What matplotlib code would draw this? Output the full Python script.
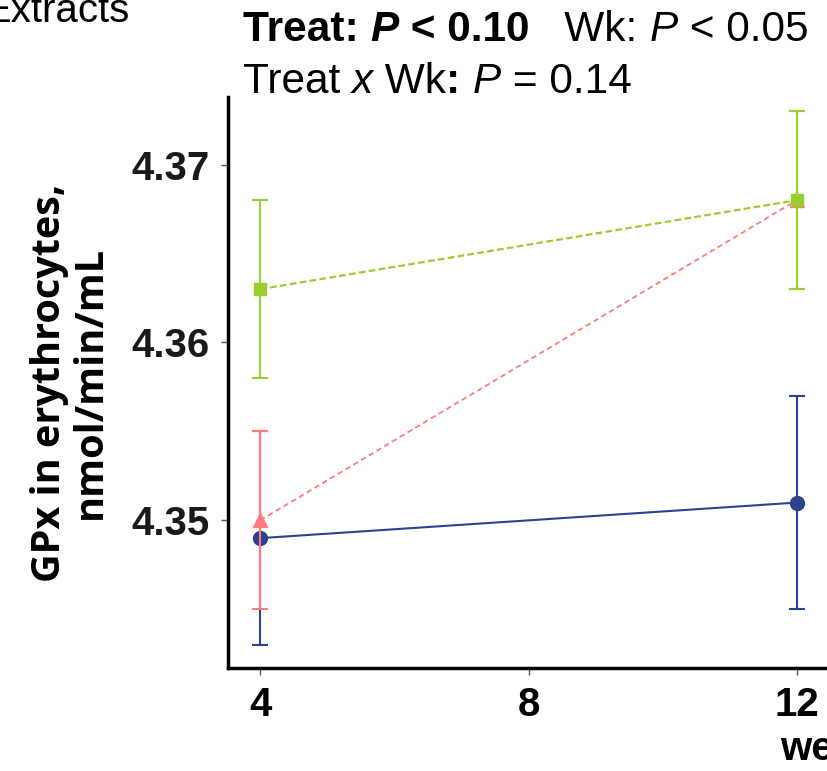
import matplotlib
matplotlib.use("Agg")
import matplotlib.pyplot as plt

plt.rcParams['font.family'] = ['Liberation Sans', 'DejaVu Sans']

# data
weeks = [4, 12]
ctrl_mean = [4.349, 4.351]
ctrl_err = [0.006, 0.006]
low_mean = [4.350, 4.368]
low_err = [0.005, 0.005]
high_mean = [4.363, 4.368]
high_err = [0.005, 0.005]

x_ticks = [4, 8, 12]
y_ticks = [4.35, 4.36, 4.37]
y_labels = ["4.35", "4.36", "4.37"]

fig = plt.figure(figsize=(8.28, 7.71), dpi=100)
ax = fig.add_axes([0.2754, 0.1336, 0.7357, 0.7406])

# blue (solid) first, red over it, then green
ax.errorbar(weeks, ctrl_mean, yerr=ctrl_err, color='#2e4190', marker='o', ms=10,
            lw=1.5, elinewidth=1.5, capsize=6, capthick=1.5, ls='-', zorder=2)
ax.errorbar(weeks, low_mean, yerr=low_err, color='#ff7b7b', marker='^', ms=10,
            lw=1.3, elinewidth=1.5, capsize=6, capthick=1.5, ls=(0, (3, 2)), zorder=3)
ax.errorbar(weeks, high_mean, yerr=high_err, color='#9acd32', marker='s', ms=9,
            lw=1.6, elinewidth=1.5, capsize=6, capthick=1.5, ls=(0, (3, 1.5)), zorder=4)

ax.set_xlim(3.52, 12.6)
ax.set_ylim(4.3417, 4.3738)
ax.set_xticks(x_ticks)
ax.set_xticklabels([str(t) for t in x_ticks], fontsize=29, fontweight='bold')
ax.set_yticks(y_ticks)
ax.set_yticklabels(y_labels, fontsize=29, fontweight='bold', color='#1a1a1a')
ax.tick_params(length=5, width=1, color='#555555', pad=8)

for s in ['top', 'right']:
    ax.spines[s].set_visible(False)
for s in ['left', 'bottom']:
    ax.spines[s].set_linewidth(2.5)
    ax.spines[s].set_color('black')

ax.set_ylabel("GPx in erythrocytes,\nnmol/min/mL", fontsize=28.5, fontweight='bold',
              family='Open Sans', linespacing=1.05, labelpad=16)

# header text: pieces placed one after another so bold/italic can mix
fig.canvas.draw()
renderer = fig.canvas.get_renderer()


def put_line(x0, y0, pieces, size=30.5):
    x = x0
    for txt, weight, style in pieces:
        t = fig.text(x, y0, txt, fontsize=size, fontweight=weight, fontstyle=style,
                     ha='left', va='baseline')
        bb = t.get_window_extent(renderer=renderer)
        x += bb.width / fig.bbox.width


line1 = [("Treat: ", 'bold', 'normal'), ("P", 'bold', 'italic'),
         (" < 0.10", 'bold', 'normal'), ("   Wk: ", 'normal', 'normal'),
         ("P", 'normal', 'italic'), (" < 0.05", 'normal', 'normal')]
line2 = [("Treat ", 'normal', 'normal'), ("x", 'normal', 'italic'),
         (" Wk", 'normal', 'normal'), (": ", 'bold', 'normal'),
         ("P", 'normal', 'italic'), (" = 0.14", 'normal', 'normal')]
put_line(243 / 828, 1 - 41 / 771, line1)
put_line(243 / 828, 1 - 93 / 771, line2)

fig.text(130 / 828, 1 - 22 / 771, "Extracts", fontsize=29, ha='right', va='baseline')
fig.text(780 / 828, 1 - 760 / 771, "weeks", fontsize=29, fontweight='bold',
         ha='left', va='baseline')

fig.savefig("out.png", dpi=100)
